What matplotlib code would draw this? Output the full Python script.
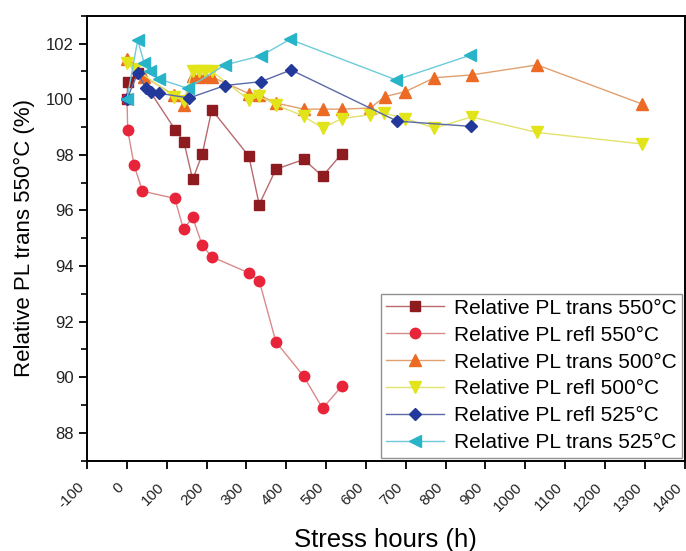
import matplotlib
matplotlib.use("Agg")
import matplotlib.pyplot as plt
from matplotlib.ticker import MultipleLocator

plt.rcParams['font.family'] = ['Liberation Sans', 'DejaVu Sans']

# Relative PL trans 550°C
x_t550 = [0, 2, 27, 121, 143, 165, 189, 213, 306, 332, 374, 444, 491, 539]
y_t550 = [100.0, 100.6, 100.95, 98.9, 98.46, 97.11, 98.02, 99.62, 97.95, 96.21, 97.48, 97.83, 97.23, 98.03]

# Relative PL refl 550°C
x_r550 = [0, 2, 18, 39, 120, 142, 165, 189, 213, 306, 332, 374, 444, 491, 539]
y_r550 = [100.0, 98.88, 97.62, 96.69, 96.43, 95.32, 95.75, 94.74, 94.33, 93.75, 93.47, 91.27, 90.03, 88.88, 89.67]

# Relative PL trans 500°C
x_t500 = [0, 43, 118, 142, 165, 181, 197, 213, 306, 332, 374, 444, 491, 539, 611, 647, 699, 772, 865, 1030, 1292]
y_t500 = [101.43, 100.81, 100.15, 99.8, 100.82, 100.8, 100.82, 100.8, 100.2, 100.15, 99.86, 99.64, 99.64, 99.64, 99.68, 100.09, 100.27, 100.77, 100.87, 101.23, 99.83]

# Relative PL refl 500°C
x_r500 = [0, 20, 118, 142, 165, 181, 197, 213, 306, 332, 374, 444, 491, 539, 611, 645, 699, 772, 865, 1030, 1292]
y_r500 = [101.3, 101.1, 100.09, 99.95, 101.02, 101.0, 101.02, 101.0, 99.97, 100.1, 99.8, 99.38, 98.96, 99.3, 99.44, 99.5, 99.3, 98.96, 99.36, 98.8, 98.39]

# Relative PL refl 525°C
x_r525 = [0, 27, 48, 60, 81, 156, 246, 337, 412, 678, 864]
y_r525 = [100.0, 100.93, 100.39, 100.24, 100.21, 100.04, 100.49, 100.63, 101.05, 99.21, 99.02]

# Relative PL trans 525°C
x_t525 = [0, 27, 43, 58, 81, 152, 246, 337, 409, 676, 862]
y_t525 = [100.0, 102.12, 101.31, 101.01, 100.72, 100.39, 101.23, 101.56, 102.15, 100.69, 101.58]

labels = ["Relative PL trans 550°C", "Relative PL refl 550°C", "Relative PL trans 500°C",
          "Relative PL refl 500°C", "Relative PL refl 525°C", "Relative PL trans 525°C"]

x_ticks = [-100, 0, 100, 200, 300, 400, 500, 600, 700, 800, 900, 1000, 1100, 1200, 1300, 1400]
y_ticks = [88, 90, 92, 94, 96, 98, 100, 102]

fig = plt.figure(figsize=(6.86, 5.51), dpi=100)
ax = fig.add_axes([0.127, 0.164, 0.871, 0.8075])

series = [
    (x_t550, y_t550, 's', '#8e1b1f', '#b86a6e', 6.5),
    (x_r550, y_r550, 'o', '#e8243a', '#d98a8a', 7.5),
    (x_t500, y_t500, '^', '#ec6a24', '#e0a070', 8),
    (x_r500, y_r500, 'v', '#e2e41a', '#e2e36a', 8),
    (x_r525, y_r525, 'D', '#22389a', '#5a6aa8', 6.5),
    (x_t525, y_t525, '<', '#27b4c9', '#6ccbd8', 8.5),
]

for (xs, ys, m, c, lc, ms), lab in zip(series, labels):
    ax.plot(xs, ys, color=lc, lw=1.0, marker=m, markersize=ms,
            markerfacecolor=c, markeredgecolor=c, label=lab)

ax.set_xlim(-100, 1400)
ax.set_ylim(87, 103)
ax.set_xticks(x_ticks)
ax.set_xticklabels([str(t) for t in x_ticks], rotation=45, ha='right', va='bottom',
                   rotation_mode='anchor', fontsize=11, color='#222222')
ax.set_yticks(y_ticks)
ax.set_yticklabels([str(t) for t in y_ticks], fontsize=12, color='#222222')
ax.yaxis.set_minor_locator(MultipleLocator(1))
ax.tick_params(axis='both', which='major', direction='out', length=6, width=1.3)
ax.tick_params(axis='y', which='minor', direction='out', length=4, width=1.2)
ax.tick_params(axis='x', pad=15)
for s in ax.spines.values():
    s.set_linewidth(1.4)

ax.set_xlabel("Stress hours (h)", fontsize=18.5, labelpad=10)
ax.set_ylabel("Relative PL trans 550°C (%)", fontsize=16, labelpad=8)

leg = ax.legend(loc='lower right', fontsize=15, frameon=True, fancybox=False,
                edgecolor='#777777', handlelength=2.8, handletextpad=0.45,
                labelspacing=0.38, borderpad=0.25, borderaxespad=0.15)
leg.get_frame().set_linewidth(1.0)

fig.savefig("out.png", dpi=100)
